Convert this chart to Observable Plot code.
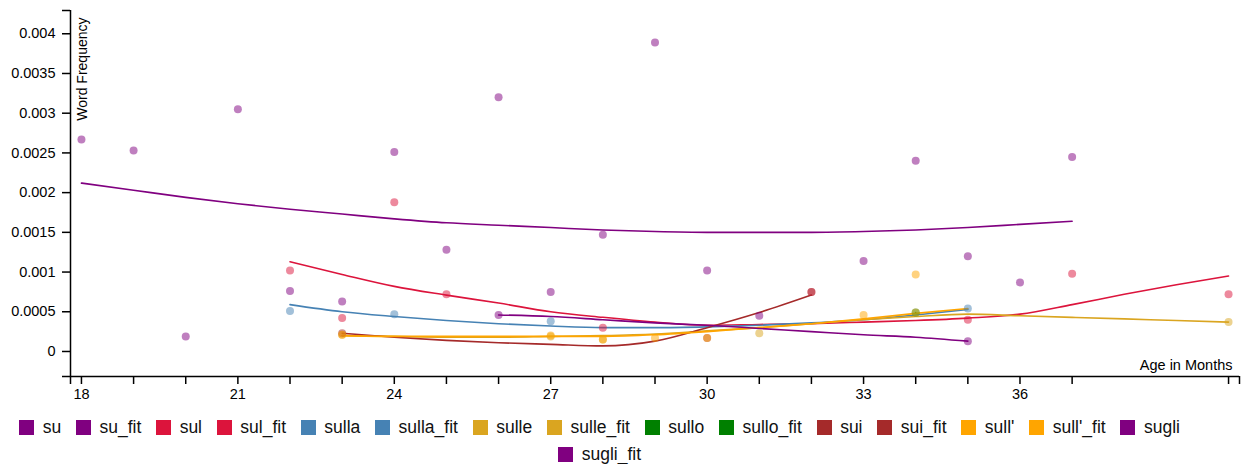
<!DOCTYPE html>
<html><head><meta charset="utf-8">
<script src="https://cdn.jsdelivr.net/npm/d3@7"></script>
<script src="https://cdn.jsdelivr.net/npm/@observablehq/plot@0.6"></script>
<style>
body { margin:0; background:#fff; }
.lg-swatches { font-family: "Liberation Sans", Arial, sans-serif; font-size: 17.5px; color:#111; justify-content:center; row-gap:7px; margin:15px 27px 0 0; min-height:0; line-height:20px; }
.lg-swatches .lg-swatch { margin-right:14.8px; }
.lg-swatches .lg-swatch > svg { margin-right:8.5px; }
</style></head><body><div id="chart"></div><script>
// legend / colour scale
const seriesNames = ["su","su_fit","sul","sul_fit","sulla","sulla_fit","sulle","sulle_fit","sullo","sullo_fit","sui","sui_fit","sull'","sull'_fit","sugli","sugli_fit"];
const seriesColors = ["purple","purple","crimson","crimson","steelblue","steelblue","goldenrod","goldenrod","green","green","brown","brown","orange","orange","purple","purple"];

// observed frequencies [month, value]
const su = [[18,0.00267],[19,0.00253],[20,0.00019],[21,0.00305],[22,0.00076],[23,0.00063],[24,0.00251],[25,0.00128],[26,0.0032],[27,0.00075],[28,0.00147],[29,0.00389],[30,0.00102],[31,0.00045],[33,0.00114],[34,0.0024],[35,0.0012],[36,0.00087],[37,0.00245]];
const sul = [[22,0.00102],[23,0.00042],[24,0.00188],[25,0.00072],[28,0.0003],[32,0.00075],[35,0.0004],[37,0.00098],[40,0.00072]];
const sulla = [[22,0.00051],[24,0.00047],[27,0.00038],[35,0.00054]];
const sulle = [[23,0.00021],[27,0.00019],[28,0.00015],[31,0.00023],[34,0.00049],[40,0.00037]];
const sullo = [[34,0.00049]];
const sui = [[23,0.00023],[30,0.00017],[32,0.00075]];
const sullA = [[23,0.00021],[27,0.0002],[28,0.00015],[29,0.00017],[30,0.00017],[33,0.00046],[34,0.00097]];
const sugli = [[26,0.00046],[35,0.00013]];

// fitted curves [month, value]
const su_fit = [[18,0.00212],[19,0.00203],[20,0.00194],[21,0.00186],[22,0.00179],[23,0.00173],[24,0.00167],[25,0.00162],[26,0.00159],[27,0.00156],[28,0.00153],[29,0.00151],[30,0.0015],[31,0.0015],[32,0.0015],[33,0.00151],[34,0.00153],[35,0.00156],[36,0.0016],[37,0.00164]];
const sul_fit = [[22,0.00113],[23,0.00097],[24,0.00082],[25,0.00071],[26,0.00061],[27,0.0005],[28,0.00043],[29,0.00037],[30,0.00033],[31,0.00034],[32,0.00035],[33,0.00037],[34,0.00039],[35,0.00042],[36,0.00047],[37,0.00059],[38,0.00072],[39,0.00084],[40,0.00095]];
const sulla_fit = [[22,0.00059],[23,0.0005],[24,0.00044],[25,0.00039],[26,0.00035],[27,0.00032],[28,0.0003],[29,0.0003],[30,0.00031],[31,0.00033],[32,0.00036],[33,0.0004],[34,0.00046],[35,0.00053]];
const sulle_fit = [[23,0.0002],[24,0.00019],[25,0.00018],[26,0.00018],[27,0.00019],[28,0.0002],[29,0.00022],[30,0.00026],[31,0.0003],[32,0.00035],[33,0.0004],[34,0.00044],[35,0.00047],[36,0.00045],[37,0.00043],[38,0.00041],[39,0.00039],[40,0.00037]];
const sullo_fit = [[34,0.00049]];
const sui_fit = [[23,0.00023],[24,0.00018],[25,0.00014],[26,0.00011],[27,0.00009],[28,0.00007],[29,0.00013],[30,0.0003],[31,0.00049],[32,0.00071]];
const sullA_fit = [[23,0.0002],[24,0.00019],[25,0.00019],[26,0.00019],[27,0.00019],[28,0.00019],[29,0.00021],[30,0.00025],[31,0.0003],[32,0.00035],[33,0.00041],[34,0.00048],[35,0.00054]];
const sugli_fit = [[26,0.00046],[27,0.00044],[28,0.0004],[29,0.00036],[30,0.00033],[31,0.00029],[32,0.00025],[33,0.00021],[34,0.00018],[35,0.00013]];

// axes
const xDomain = [17.79, 40.21];
const yDomain = [-0.000315, 0.004293];
const xTicks = [18,19,20,21,22,23,24,25,26,27,28,29,30,31,32,33,34,35,36,37,40];
const xLabelMonths = [18,21,24,27,30,33,36];
const yTicks = [0,0.0005,0.001,0.0015,0.002,0.0025,0.003,0.0035,0.004];
const yTickLabels = ["0","0.0005","0.001","0.0015","0.002","0.0025","0.003","0.0035","0.004"];

const pointSeries = [["su",su],["sul",sul],["sulla",sulla],["sullo",sullo],["sulle",sulle],["sui",sui],["sull'",sullA],["sugli",sugli]];
const fitSeries = [["su_fit",su_fit],["sul_fit",sul_fit],["sulla_fit",sulla_fit],["sullo_fit",sullo_fit],["sulle_fit",sulle_fit],["sui_fit",sui_fit],["sull'_fit",sullA_fit],["sugli_fit",sugli_fit]];
const toRows = list => list.flatMap(([name, arr]) => arr.map(([m, v]) => ({series: name, month: m, value: v})));
const points = toRows(pointSeries);
const fits = toRows(fitSeries);

const chart = Plot.plot({
  width: 1241, height: 402,
  marginLeft: 70, marginRight: 2, marginTop: 10, marginBottom: 26,
  style: {fontFamily: '"Liberation Sans", Arial, sans-serif', fontSize: "14.5px", color: "#000", background: "#fff", overflow: "visible"},
  x: {domain: xDomain},
  y: {domain: yDomain},
  color: {domain: seriesNames, range: seriesColors},
  marks: [
    Plot.line(fits, {x: "month", y: "value", z: "series", stroke: "series", strokeWidth: 1.6, curve: "monotone-x"}),
    Plot.dot(points, {x: "month", y: "value", fill: "series", r: 4, fillOpacity: 0.5}),
    Plot.ruleX([xDomain[0]], {strokeWidth: 1.5}),
    Plot.ruleY([yDomain[0]], {strokeWidth: 1.5}),
    Plot.axisY({ticks: yTicks, tickFormat: d => yTickLabels[yTicks.indexOf(d)], tickSize: 8, tickPadding: 7, label: null, strokeWidth: 1.5}),
    Plot.axisY({ticks: yDomain, tickFormat: () => "", tickSize: 8, label: null, strokeWidth: 1.5}),
    Plot.axisX({ticks: xTicks, tickFormat: d => xLabelMonths.includes(d) ? String(d) : "", tickSize: 8, tickPadding: 4, label: null, strokeWidth: 1.5}),
    Plot.axisX({ticks: xDomain, tickFormat: () => "", tickSize: 8, label: null, strokeWidth: 1.5}),
    Plot.text(["Word Frequency"], {text: d => d, frameAnchor: "top-left", rotate: -90, textAnchor: "end", lineAnchor: "bottom", dx: 16, dy: 7, fontSize: 14}),
    Plot.text(["Age in Months"], {text: d => d, frameAnchor: "bottom-right", textAnchor: "end", lineAnchor: "bottom", dx: -7, dy: -7})
  ]
});
const root = document.getElementById("chart");
root.appendChild(chart);
root.appendChild(chart.legend("color", {swatchSize: 15, className: "lg"}));
</script></body></html>
